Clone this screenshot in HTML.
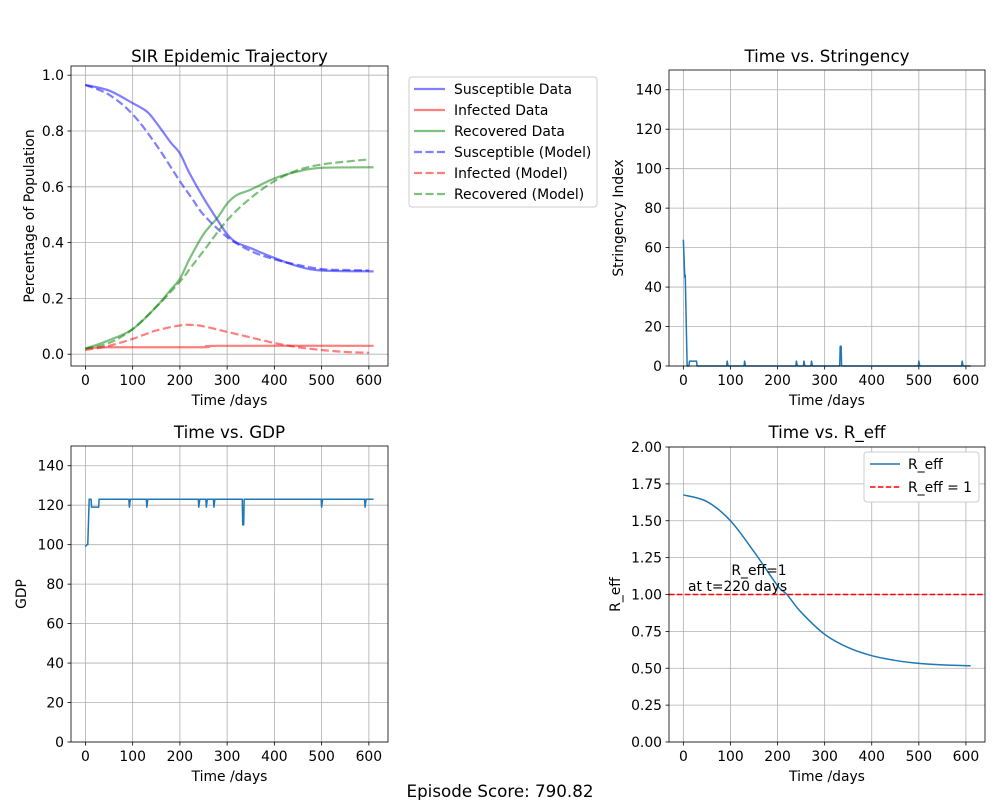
<!DOCTYPE html>
<html><head><meta charset="utf-8"><style>
body{margin:0;background:#fff}
svg{display:block;font-family:"DejaVu Sans","Liberation Sans",sans-serif}
</style></head><body>
<svg id="fig" width="1000" height="800" viewBox="0 0 1000 800"></svg>
<script>
// ---- data ----
const sirDays=[0,50,100,130,150,180,200,220,250,280,300,320,350,400,450,500,610];
const susData=[0.965,0.945,0.90,0.87,0.83,0.76,0.72,0.65,0.56,0.48,0.43,0.40,0.38,0.345,0.315,0.30,0.297];
const recDays=[0,50,100,150,180,200,220,250,280,300,320,350,400,450,500,610];
const recData=[0.02,0.05,0.09,0.17,0.23,0.27,0.34,0.43,0.49,0.54,0.57,0.59,0.63,0.655,0.668,0.67];
const infDays=[0,50,250,280,610];
const infData=[0.02,0.025,0.025,0.03,0.03];
const modelDays=[0,50,100,150,200,225,250,300,350,400,450,500,550,600];
const susModel=[0.965,0.93,0.86,0.75,0.62,0.56,0.50,0.42,0.37,0.34,0.32,0.305,0.302,0.30];
const infModel=[0.015,0.03,0.055,0.085,0.103,0.105,0.10,0.08,0.06,0.04,0.025,0.015,0.008,0.005];
const recModel=[0.02,0.04,0.09,0.17,0.26,0.315,0.37,0.48,0.56,0.62,0.66,0.68,0.69,0.698];
const strDays=[0,3,4,8,12,13,28,29,92,93,95,129,130,132,239,240,242,255,256,258,271,272,274,332,333,335,336,499,500,502,591,592,594,610];
const strVals=[64,45,46,0,0,2.5,2.5,0,0,2.5,0,0,2.5,0,0,2.5,0,0,2.5,0,0,2.5,0,0,10,10,0,0,2.5,0,0,2.5,0,0];
const gdpDays=[0,3,5,8,12,13,28,29,92,93,95,129,130,132,239,240,242,255,256,258,271,272,274,332,333,335,336,499,500,502,591,592,594,610];
const gdpVals=[99,100,100,123,123,119,119,123,123,119,123,123,119,123,123,119,123,123,119,123,123,119,123,123,110,110,123,123,119,123,123,119,123,123];
const reffDays=[0,50,100,150,200,220,250,300,350,400,450,500,550,610];
const reffVals=[1.675,1.63,1.5,1.29,1.06,1.0,0.88,0.73,0.64,0.585,0.553,0.533,0.523,0.517];
const xTicks=[0,100,200,300,400,500,600];
const sirYTicks=[0,0.2,0.4,0.6,0.8,1.0];
const idxYTicks=[0,20,40,60,80,100,120,140];
const reffYTicks=[0,0.25,0.5,0.75,1.0,1.25,1.5,1.75,2.0];

const NS="http://www.w3.org/2000/svg";
const svg=document.getElementById('fig');
const FS=13.9, TFS=16.7;
function mk(tag,attrs,parent){const e=document.createElementNS(NS,tag);for(const k in attrs)e.setAttribute(k,attrs[k]);(parent||svg).appendChild(e);return e;}
function txt(s,x,y,attrs){const e=mk('text',Object.assign({x:x,y:y,'font-size':FS,fill:'#000'},attrs||{}));e.textContent=s;return e;}

function axes(o){
  const g=mk('g',{});
  
  
  const X=v=>o.l+(v-o.x0)/(o.x1-o.x0)*(o.r-o.l);
  const Y=v=>o.b-(v-o.y0)/(o.y1-o.y0)*(o.b-o.t);
  xTicks.forEach(v=>{const l=mk('line',{x1:X(v),x2:X(v),y1:o.t,y2:o.b,stroke:'#b0b0b0','stroke-width':0.8},g);});
  o.yt.forEach(v=>{const l=mk('line',{x1:o.l,x2:o.r,y1:Y(v),y2:Y(v),stroke:'#b0b0b0','stroke-width':0.8},g);});
  xTicks.forEach(v=>{mk('line',{x1:X(v),x2:X(v),y1:o.b,y2:o.b+3.5,stroke:'#000','stroke-width':0.8},g);const t=txt(String(v),X(v),o.b+19,{'text-anchor':'middle'});g.appendChild(t);});
  o.yt.forEach(v=>{mk('line',{x1:o.l-3.5,x2:o.l,y1:Y(v),y2:Y(v),stroke:'#000','stroke-width':0.8},g);const t=txt(o.fmt(v),o.l-7,Y(v)+5,{'text-anchor':'end'});g.appendChild(t);});
  const tt=txt(o.title,(o.l+o.r)/2,o.ty,{'text-anchor':'middle','font-size':TFS});g.appendChild(tt);
  const xl=txt('Time /days',(o.l+o.r)/2,o.b+39,{'text-anchor':'middle'});g.appendChild(xl);
  const yl=txt(o.ylabel,0,0,{'text-anchor':'middle',transform:`translate(${o.yl},${(o.t+o.b)/2}) rotate(-90)`});g.appendChild(yl);
  return {g,X,Y,o};
}
function frame(a){const o=a.o;const r=mk('rect',{x:o.l,y:o.t,width:o.r-o.l,height:o.b-o.t,fill:'none',stroke:'#000','stroke-width':0.8},a.g);}
function line(a,xs,ys,attrs,name,smooth){
  const P=xs.map((x,i)=>[a.X(x),a.Y(ys[i])]);
  let d='M'+P[0][0].toFixed(2)+' '+P[0][1].toFixed(2);
  for(let i=0;i<P.length-1;i++){
    if(!smooth){d+=' L'+P[i+1][0].toFixed(2)+' '+P[i+1][1].toFixed(2);continue;}
    const p0=P[Math.max(i-1,0)],p1=P[i],p2=P[i+1],p3=P[Math.min(i+2,P.length-1)];
    const c1=[p1[0]+(p2[0]-p0[0])/6,p1[1]+(p2[1]-p0[1])/6],c2=[p2[0]-(p3[0]-p1[0])/6,p2[1]-(p3[1]-p1[1])/6];
    d+=` C${c1[0].toFixed(2)} ${c1[1].toFixed(2)} ${c2[0].toFixed(2)} ${c2[1].toFixed(2)} ${p2[0].toFixed(2)} ${p2[1].toFixed(2)}`;
  }
  const p=mk('path',Object.assign({d:d,fill:'none','stroke-linejoin':'round'},attrs),a.g);
  
  
  return p;
}
const sx0=-30.5,sx1=640.5;
const A=axes({name:'sir-chart',l:71,r:388,t:66,b:366,ty:62,x0:sx0,x1:sx1,y0:-0.0423,y1:1.0330,yt:sirYTicks,fmt:v=>v.toFixed(1),title:'SIR Epidemic Trajectory',ylabel:'Percentage of Population',yl:34});
line(A,sirDays,susData,{stroke:'rgba(0,0,255,0.5)','stroke-width':2.2},'susceptible-data-line',true);
line(A,infDays,infData,{stroke:'rgba(255,0,0,0.5)','stroke-width':2.2},'infected-data-line',true);
line(A,recDays,recData,{stroke:'rgba(0,128,0,0.5)','stroke-width':2.2},'recovered-data-line',true);
line(A,modelDays,susModel,{stroke:'rgba(0,0,255,0.5)','stroke-width':2.2,'stroke-dasharray':'8 3.5'},'susceptible-model-line',true);
line(A,modelDays,infModel,{stroke:'rgba(255,0,0,0.5)','stroke-width':2.2,'stroke-dasharray':'8 3.5'},'infected-model-line',true);
line(A,modelDays,recModel,{stroke:'rgba(0,128,0,0.5)','stroke-width':2.2,'stroke-dasharray':'8 3.5'},'recovered-model-line',true);
frame(A);
const lg=mk('g',{});
mk('rect',{x:409,y:77,width:188,height:130,rx:3,fill:'#fff',stroke:'#ccc'},lg);
const legItems=[['Susceptible Data','rgba(0,0,255,0.5)',0],['Infected Data','rgba(255,0,0,0.5)',0],['Recovered Data','rgba(0,128,0,0.5)',0],['Susceptible (Model)','rgba(0,0,255,0.5)',1],['Infected (Model)','rgba(255,0,0,0.5)',1],['Recovered (Model)','rgba(0,128,0,0.5)',1]];
legItems.forEach((it,i)=>{const y=89+i*21;const e=mk('g',{},lg);
  mk('line',Object.assign({x1:414,x2:445,y1:y,y2:y,stroke:it[1],'stroke-width':2.2},it[2]?{'stroke-dasharray':'8 3.5'}:{}),e);
  e.appendChild(txt(it[0],454,y+5));});
const B=axes({name:'stringency-chart',l:669,r:985,t:70,b:366,ty:62,x0:sx0,x1:sx1,y0:0,y1:150,yt:idxYTicks,fmt:v=>String(v),title:'Time vs. Stringency',ylabel:'Stringency Index',yl:623});
line(B,strDays,strVals,{stroke:'#1f77b4','stroke-width':1.5},'stringency-line');
frame(B);
const C=axes({name:'gdp-chart',l:71,r:388,t:446,b:742,ty:438,x0:sx0,x1:sx1,y0:0,y1:150,yt:idxYTicks,fmt:v=>String(v),title:'Time vs. GDP',ylabel:'GDP',yl:26});
line(C,gdpDays,gdpVals,{stroke:'#1f77b4','stroke-width':1.5},'gdp-line');
frame(C);
const D=axes({name:'reff-chart',l:669,r:985,t:447,b:742,ty:438,x0:sx0,x1:sx1,y0:0,y1:2,yt:reffYTicks,fmt:v=>v.toFixed(2),title:'Time vs. R_eff',ylabel:'R_eff',yl:620});
line(D,reffDays,reffVals,{stroke:'#1f77b4','stroke-width':1.5},'reff-line',true);
const h=mk('line',{x1:669,x2:985,y1:D.Y(1),y2:D.Y(1),stroke:'#ff0000','stroke-width':1.5,'stroke-dasharray':'5.5 2.4'},D.g);
const an=txt('R_eff=1',759,575,{'text-anchor':'middle'});
const an2=txt('at t=220 days',688,591);
frame(D);
const lg2=mk('g',{});
mk('rect',{x:864,y:452,width:115,height:50,rx:3,fill:'#fff',stroke:'#ccc'},lg2);
const e1=mk('g',{},lg2);
mk('line',{x1:870,x2:900,y1:464,y2:464,stroke:'#1f77b4','stroke-width':1.5},e1);e1.appendChild(txt('R_eff',908,469));
const e2=mk('g',{},lg2);
mk('line',{x1:870,x2:900,y1:487,y2:487,stroke:'#ff0000','stroke-width':1.5,'stroke-dasharray':'5.5 2.4'},e2);e2.appendChild(txt('R_eff = 1',908,492));
const sc=txt('Episode Score: 790.82',500,797,{'text-anchor':'middle','font-size':TFS});
</script>
</body></html>
